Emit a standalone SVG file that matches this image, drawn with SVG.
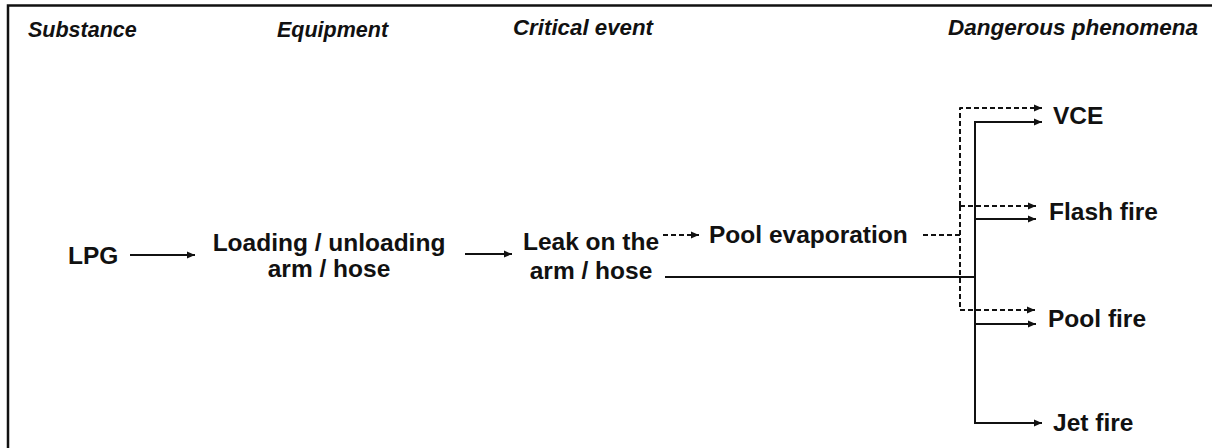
<svg xmlns="http://www.w3.org/2000/svg" width="1212" height="448" viewBox="0 0 1212 448">
<defs>
<style>
.hdr{font-family:"Liberation Sans",Arial,sans-serif;font-weight:bold;font-style:italic;font-size:21.5px;fill:#111}
.lbl{font-family:"Liberation Sans",Arial,sans-serif;font-weight:bold;font-size:24.5px;fill:#111}
.mid{text-anchor:middle}
.ln{fill:none;stroke:#111;stroke-width:2}
.dash{fill:none;stroke:#111;stroke-width:2;stroke-dasharray:5 3;stroke-linejoin:round}
</style>
<marker id="ah" markerUnits="userSpaceOnUse" markerWidth="9" markerHeight="8" refX="8" refY="4" orient="auto">
<path d="M0,0.5 L8,4 L0,7.5 z" fill="#111"/>
</marker>
</defs>
<rect width="1212" height="448" fill="#fff"/>
<g id="frame">
<path d="M8,448 V5.5 H1212" fill="none" stroke="#111" stroke-width="2.5"/>
</g>
<g id="headers">
<text class="hdr" x="28" y="37">Substance</text>
<text class="hdr" x="277" y="37">Equipment</text>
<text class="hdr" x="513" y="35" textLength="140" lengthAdjust="spacingAndGlyphs">Critical event</text>
<text class="hdr" x="948" y="35" textLength="250" lengthAdjust="spacingAndGlyphs">Dangerous phenomena</text>
</g>
<g id="connectors">
<path class="ln" d="M130,255 H195" marker-end="url(#ah)"/>
<path class="ln" d="M465,254 H512" marker-end="url(#ah)"/>
<path class="dash" d="M663,235 H699" marker-end="url(#ah)"/>
<path class="dash" d="M923,235 H960"/>
<path class="dash" d="M960,206 V108 H1042" marker-end="url(#ah)"/>
<path class="dash" d="M960,206 H1036" marker-end="url(#ah)"/>
<path class="dash" d="M960,206 V310 H1035" marker-end="url(#ah)"/>
<path class="ln" d="M665,277 H975"/>
<path class="ln" d="M975,277 V122 H1042" marker-end="url(#ah)"/>
<path class="ln" d="M975,219 H1036" marker-end="url(#ah)"/>
<path class="ln" d="M975,324 H1036" marker-end="url(#ah)"/>
<path class="ln" d="M975,277 V423 H1042" marker-end="url(#ah)"/>
</g>
<g id="lpg"><text class="lbl" x="68" y="264">LPG</text></g>
<g id="loading">
<text class="lbl mid" x="329" y="251">Loading / unloading</text>
<text class="lbl mid" x="329" y="277">arm / hose</text>
</g>
<g id="leak">
<text class="lbl mid" x="591" y="250">Leak on the</text>
<text class="lbl mid" x="591" y="279">arm / hose</text>
</g>
<g id="pool-evaporation"><text class="lbl" x="709" y="243">Pool evaporation</text></g>
<g id="vce"><text class="lbl" x="1053" y="124">VCE</text></g>
<g id="flash-fire"><text class="lbl" x="1049" y="220">Flash fire</text></g>
<g id="pool-fire"><text class="lbl" x="1048" y="327">Pool fire</text></g>
<g id="jet-fire"><text class="lbl" x="1053" y="431">Jet fire</text></g>
</svg>
